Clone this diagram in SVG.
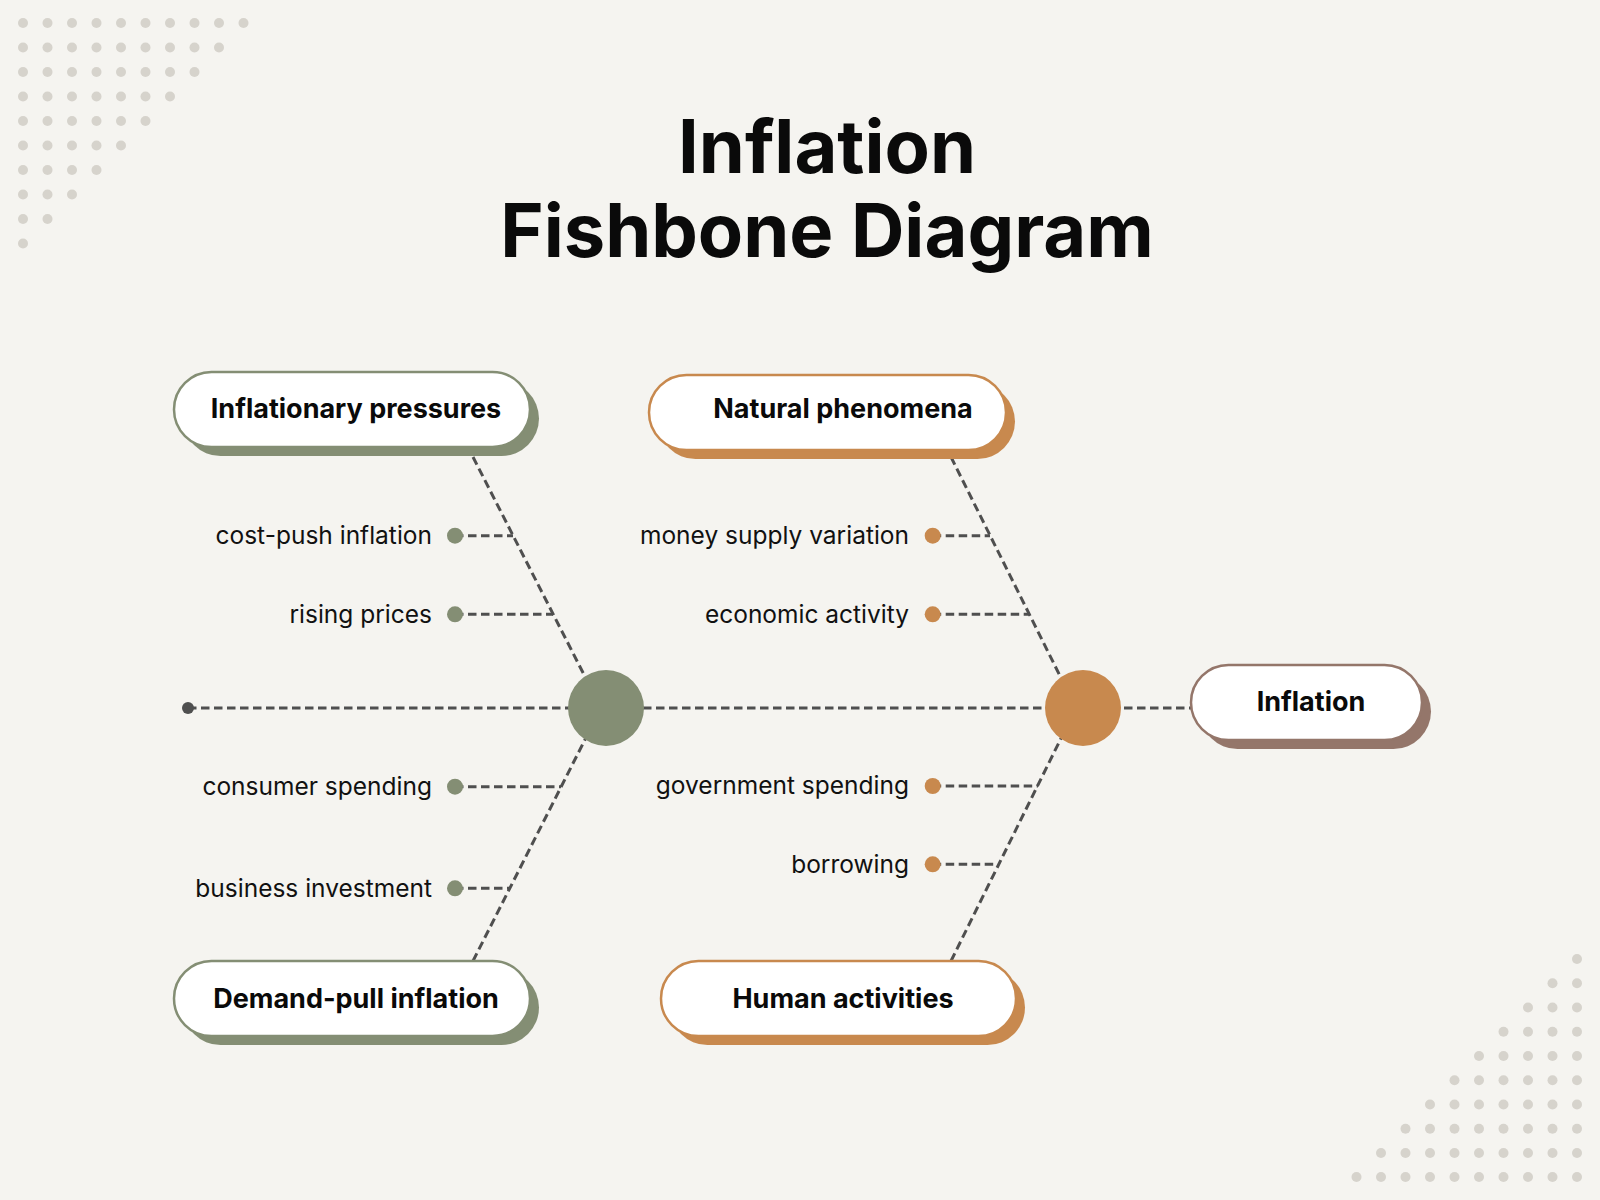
<svg xmlns="http://www.w3.org/2000/svg" width="1600" height="1200" viewBox="0 0 1600 1200">
  <defs>
    <style>
      .bg{fill:#f5f4f0}
      .dot{fill:#d6d3cc}
      .dash{fill:none;stroke:#4f4f4f;stroke-width:3;stroke-dasharray:8.5 4.5}
      .title{font-family:Inter,"Liberation Sans",sans-serif;font-weight:700;font-size:74px;fill:#0a0a0a;text-anchor:middle}
      .box{fill:#ffffff;stroke-width:2.5}
      .btxt{font-family:Inter,"Liberation Sans",sans-serif;font-weight:700;font-size:27px;fill:#0a0a0a;text-anchor:middle}
      .lbl{font-family:Inter,"Liberation Sans",sans-serif;font-weight:400;font-size:24.5px;fill:#111111;text-anchor:end}
      .g{fill:#848e74}
      .gs{stroke:#848e74}
      .o{fill:#c8894e}
      .os{stroke:#c8894e}
      .b{fill:#94766a}
      .bs{stroke:#94766a}
    </style>
  </defs>
  <rect class="bg" x="0" y="0" width="1600" height="1200"/>

  <g id="dots-top-left">
    <circle class="dot" cx="23" cy="23" r="5"/><circle class="dot" cx="47.5" cy="23" r="5"/><circle class="dot" cx="72" cy="23" r="5"/><circle class="dot" cx="96.5" cy="23" r="5"/><circle class="dot" cx="121" cy="23" r="5"/><circle class="dot" cx="145.5" cy="23" r="5"/><circle class="dot" cx="170" cy="23" r="5"/><circle class="dot" cx="194.5" cy="23" r="5"/><circle class="dot" cx="219" cy="23" r="5"/><circle class="dot" cx="243.5" cy="23" r="5"/>
    <circle class="dot" cx="23" cy="47.5" r="5"/><circle class="dot" cx="47.5" cy="47.5" r="5"/><circle class="dot" cx="72" cy="47.5" r="5"/><circle class="dot" cx="96.5" cy="47.5" r="5"/><circle class="dot" cx="121" cy="47.5" r="5"/><circle class="dot" cx="145.5" cy="47.5" r="5"/><circle class="dot" cx="170" cy="47.5" r="5"/><circle class="dot" cx="194.5" cy="47.5" r="5"/><circle class="dot" cx="219" cy="47.5" r="5"/>
    <circle class="dot" cx="23" cy="72" r="5"/><circle class="dot" cx="47.5" cy="72" r="5"/><circle class="dot" cx="72" cy="72" r="5"/><circle class="dot" cx="96.5" cy="72" r="5"/><circle class="dot" cx="121" cy="72" r="5"/><circle class="dot" cx="145.5" cy="72" r="5"/><circle class="dot" cx="170" cy="72" r="5"/><circle class="dot" cx="194.5" cy="72" r="5"/>
    <circle class="dot" cx="23" cy="96.5" r="5"/><circle class="dot" cx="47.5" cy="96.5" r="5"/><circle class="dot" cx="72" cy="96.5" r="5"/><circle class="dot" cx="96.5" cy="96.5" r="5"/><circle class="dot" cx="121" cy="96.5" r="5"/><circle class="dot" cx="145.5" cy="96.5" r="5"/><circle class="dot" cx="170" cy="96.5" r="5"/>
    <circle class="dot" cx="23" cy="121" r="5"/><circle class="dot" cx="47.5" cy="121" r="5"/><circle class="dot" cx="72" cy="121" r="5"/><circle class="dot" cx="96.5" cy="121" r="5"/><circle class="dot" cx="121" cy="121" r="5"/><circle class="dot" cx="145.5" cy="121" r="5"/>
    <circle class="dot" cx="23" cy="145.5" r="5"/><circle class="dot" cx="47.5" cy="145.5" r="5"/><circle class="dot" cx="72" cy="145.5" r="5"/><circle class="dot" cx="96.5" cy="145.5" r="5"/><circle class="dot" cx="121" cy="145.5" r="5"/>
    <circle class="dot" cx="23" cy="170" r="5"/><circle class="dot" cx="47.5" cy="170" r="5"/><circle class="dot" cx="72" cy="170" r="5"/><circle class="dot" cx="96.5" cy="170" r="5"/>
    <circle class="dot" cx="23" cy="194.5" r="5"/><circle class="dot" cx="47.5" cy="194.5" r="5"/><circle class="dot" cx="72" cy="194.5" r="5"/>
    <circle class="dot" cx="23" cy="219" r="5"/><circle class="dot" cx="47.5" cy="219" r="5"/>
    <circle class="dot" cx="23" cy="243.5" r="5"/>
  </g>

  <g id="dots-bottom-right">
    <circle class="dot" cx="1577" cy="959" r="5"/>
    <circle class="dot" cx="1552.5" cy="983.2" r="5"/><circle class="dot" cx="1577" cy="983.2" r="5"/>
    <circle class="dot" cx="1528" cy="1007.5" r="5"/><circle class="dot" cx="1552.5" cy="1007.5" r="5"/><circle class="dot" cx="1577" cy="1007.5" r="5"/>
    <circle class="dot" cx="1503.5" cy="1031.7" r="5"/><circle class="dot" cx="1528" cy="1031.7" r="5"/><circle class="dot" cx="1552.5" cy="1031.7" r="5"/><circle class="dot" cx="1577" cy="1031.7" r="5"/>
    <circle class="dot" cx="1479" cy="1056" r="5"/><circle class="dot" cx="1503.5" cy="1056" r="5"/><circle class="dot" cx="1528" cy="1056" r="5"/><circle class="dot" cx="1552.5" cy="1056" r="5"/><circle class="dot" cx="1577" cy="1056" r="5"/>
    <circle class="dot" cx="1454.5" cy="1080.3" r="5"/><circle class="dot" cx="1479" cy="1080.3" r="5"/><circle class="dot" cx="1503.5" cy="1080.3" r="5"/><circle class="dot" cx="1528" cy="1080.3" r="5"/><circle class="dot" cx="1552.5" cy="1080.3" r="5"/><circle class="dot" cx="1577" cy="1080.3" r="5"/>
    <circle class="dot" cx="1430" cy="1104.5" r="5"/><circle class="dot" cx="1454.5" cy="1104.5" r="5"/><circle class="dot" cx="1479" cy="1104.5" r="5"/><circle class="dot" cx="1503.5" cy="1104.5" r="5"/><circle class="dot" cx="1528" cy="1104.5" r="5"/><circle class="dot" cx="1552.5" cy="1104.5" r="5"/><circle class="dot" cx="1577" cy="1104.5" r="5"/>
    <circle class="dot" cx="1405.5" cy="1128.7" r="5"/><circle class="dot" cx="1430" cy="1128.7" r="5"/><circle class="dot" cx="1454.5" cy="1128.7" r="5"/><circle class="dot" cx="1479" cy="1128.7" r="5"/><circle class="dot" cx="1503.5" cy="1128.7" r="5"/><circle class="dot" cx="1528" cy="1128.7" r="5"/><circle class="dot" cx="1552.5" cy="1128.7" r="5"/><circle class="dot" cx="1577" cy="1128.7" r="5"/>
    <circle class="dot" cx="1381" cy="1153" r="5"/><circle class="dot" cx="1405.5" cy="1153" r="5"/><circle class="dot" cx="1430" cy="1153" r="5"/><circle class="dot" cx="1454.5" cy="1153" r="5"/><circle class="dot" cx="1479" cy="1153" r="5"/><circle class="dot" cx="1503.5" cy="1153" r="5"/><circle class="dot" cx="1528" cy="1153" r="5"/><circle class="dot" cx="1552.5" cy="1153" r="5"/><circle class="dot" cx="1577" cy="1153" r="5"/>
    <circle class="dot" cx="1356.5" cy="1177" r="5"/><circle class="dot" cx="1381" cy="1177" r="5"/><circle class="dot" cx="1405.5" cy="1177" r="5"/><circle class="dot" cx="1430" cy="1177" r="5"/><circle class="dot" cx="1454.5" cy="1177" r="5"/><circle class="dot" cx="1479" cy="1177" r="5"/><circle class="dot" cx="1503.5" cy="1177" r="5"/><circle class="dot" cx="1528" cy="1177" r="5"/><circle class="dot" cx="1552.5" cy="1177" r="5"/><circle class="dot" cx="1577" cy="1177" r="5"/>
  </g>

  <g id="title">
    <text class="title" x="827" y="173">Inflation</text>
    <text class="title" x="827" y="257">Fishbone Diagram</text>
  </g>

  <g id="connectors">
    <line class="dash" x1="188" y1="708" x2="1191" y2="708"/>
    <line class="dash" x1="473" y1="457" x2="601" y2="708"/>
    <line class="dash" x1="473" y1="961" x2="601" y2="708"/>
    <line class="dash" x1="951" y1="457" x2="1076" y2="708"/>
    <line class="dash" x1="951" y1="961" x2="1076" y2="708"/>
    <line class="dash" x1="455" y1="535.7" x2="513" y2="535.7"/>
    <line class="dash" x1="455" y1="614.3" x2="553" y2="614.3"/>
    <line class="dash" x1="455" y1="786.7" x2="561" y2="786.7"/>
    <line class="dash" x1="455" y1="888.3" x2="509" y2="888.3"/>
    <line class="dash" x1="932.7" y1="535.7" x2="990" y2="535.7"/>
    <line class="dash" x1="932.7" y1="614.3" x2="1029" y2="614.3"/>
    <line class="dash" x1="932.7" y1="786" x2="1038" y2="786"/>
    <line class="dash" x1="932.7" y1="864.3" x2="997" y2="864.3"/>
    <circle cx="188" cy="708" r="6" fill="#4f4f4f"/>
  </g>

  <g id="hub-left"><circle class="g" cx="606" cy="708" r="38"/></g>
  <g id="hub-right"><circle class="o" cx="1083" cy="708" r="38"/></g>

  <g id="node-inflationary-pressures">
    <rect class="g" x="183" y="381" width="356" height="75" rx="37.5"/>
    <rect class="box gs" x="174" y="372" width="356" height="75" rx="37.5"/>
    <text class="btxt" x="356" y="418">Inflationary pressures</text>
  </g>
  <g id="node-demand-pull">
    <rect class="g" x="183" y="970" width="356" height="75" rx="37.5"/>
    <rect class="box gs" x="174" y="961" width="356" height="75" rx="37.5"/>
    <text class="btxt" x="356" y="1008">Demand-pull inflation</text>
  </g>
  <g id="node-natural-phenomena">
    <rect class="o" x="658" y="384" width="357" height="75" rx="37.5"/>
    <rect class="box os" x="649" y="375" width="357" height="75" rx="37.5"/>
    <text class="btxt" x="843" y="418">Natural phenomena</text>
  </g>
  <g id="node-human-activities">
    <rect class="o" x="670" y="970" width="355" height="75" rx="37.5"/>
    <rect class="box os" x="661" y="961" width="355" height="75" rx="37.5"/>
    <text class="btxt" x="843" y="1008">Human activities</text>
  </g>
  <g id="node-inflation">
    <rect class="b" x="1200" y="674" width="231" height="75" rx="37.5"/>
    <rect class="box bs" x="1191" y="665" width="231" height="75" rx="37.5"/>
    <text class="btxt" x="1311" y="711">Inflation</text>
  </g>

  <g id="cause-cost-push"><circle class="g" cx="455" cy="535.7" r="8"/><text class="lbl" x="432" y="544">cost-push inflation</text></g>
  <g id="cause-rising-prices"><circle class="g" cx="455" cy="614.3" r="8"/><text class="lbl" x="432" y="623">rising prices</text></g>
  <g id="cause-consumer-spending"><circle class="g" cx="455" cy="786.7" r="8"/><text class="lbl" x="432" y="795">consumer spending</text></g>
  <g id="cause-business-investment"><circle class="g" cx="455" cy="888.3" r="8"/><text class="lbl" x="432" y="897">business investment</text></g>
  <g id="cause-money-supply"><circle class="o" cx="932.7" cy="535.7" r="8"/><text class="lbl" x="909" y="544">money supply variation</text></g>
  <g id="cause-economic-activity"><circle class="o" cx="932.7" cy="614.3" r="8"/><text class="lbl" x="909" y="623">economic activity</text></g>
  <g id="cause-government-spending"><circle class="o" cx="932.7" cy="786" r="8"/><text class="lbl" x="909" y="794">government spending</text></g>
  <g id="cause-borrowing"><circle class="o" cx="932.7" cy="864.3" r="8"/><text class="lbl" x="909" y="873">borrowing</text></g>
</svg>
